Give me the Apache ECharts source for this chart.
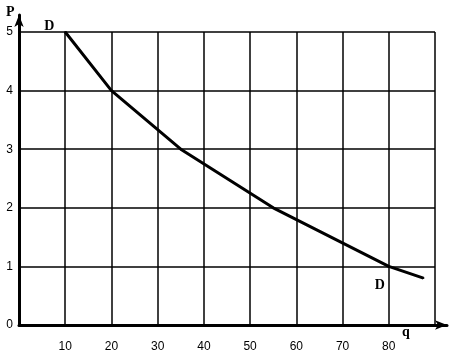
<!DOCTYPE html>
<html><head><meta charset="utf-8">
<script src="https://cdn.jsdelivr.net/npm/echarts@6/dist/echarts.min.js"></script>
<style>html,body{margin:0;padding:0;background:#fff}#c{width:456px;height:361px}</style>
</head><body><div id="c"></div>
<script>
const qValues = [10, 20, 35, 55, 80, 87.5];
const pValues = [5, 4, 3, 2, 1, 0.8];
const xTickLabels = [10, 20, 30, 40, 50, 60, 70, 80];
const yTickLabels = [0, 1, 2, 3, 4, 5];
const curveName = 'D';

const chart = echarts.init(document.getElementById('c'));
const tickFont = {fontFamily: 'Liberation Sans Narrow, Liberation Sans, Arial', fontSize: 12, color: '#000'};
const data = qValues.map((q, i) => {
  const item = {value: [q, pValues[i]]};
  if (i === 0) item.label = {show: true, formatter: curveName, position: 'inside', offset: [-16, -6]};
  if (i === 4) item.label = {show: true, formatter: curveName, position: 'inside', offset: [-9, 19]};
  return item;
});
chart.setOption({
  animation: false,
  backgroundColor: '#fff',
  grid: [
    {left: 19, right: 21, top: 32, bottom: 36},
    {left: 19, right: 9, top: 15, bottom: 36}
  ],
  xAxis: [
    {type: 'value', gridIndex: 0, min: 0, max: 90, interval: 10,
      axisLine: {show: false}, axisTick: {show: false},
      splitLine: {show: true, lineStyle: {color: '#000', width: 1.5}},
      axisLabel: Object.assign({margin: 16,
        formatter: v => xTickLabels.indexOf(v) >= 0 ? String(v) : ''}, tickFont)},
    {type: 'value', gridIndex: 1, min: 0, max: 1,
      axisLine: {show: true, symbol: ['none', 'arrow'], symbolSize: [7, 12], lineStyle: {color: '#000', width: 3}},
      axisTick: {show: false}, axisLabel: {show: false}, splitLine: {show: false}}
  ],
  yAxis: [
    {type: 'value', gridIndex: 0, min: 0, max: 5, interval: 1,
      axisLine: {show: false}, axisTick: {show: false},
      splitLine: {show: true, lineStyle: {color: '#000', width: 1.5}},
      axisLabel: Object.assign({margin: 6, padding: [6, 0, 0, 0],
        formatter: v => yTickLabels.indexOf(v) >= 0 ? String(v) : ''}, tickFont)},
    {type: 'value', gridIndex: 1, min: 0, max: 1,
      axisLine: {show: true, symbol: ['none', 'arrow'], symbolSize: [7, 12], lineStyle: {color: '#000', width: 3}},
      axisTick: {show: false}, axisLabel: {show: false}, splitLine: {show: false}}
  ],
  graphic: [
    {type: 'text', left: 6, top: 5, style: {text: 'P', font: 'bold 14px Liberation Serif', fill: '#000'}},
    {type: 'text', left: 402, top: 325, style: {text: 'q', font: 'bold 14px Liberation Serif', fill: '#000'}}
  ],
  series: [{
    type: 'line', xAxisIndex: 0, yAxisIndex: 0,
    data: data,
    symbol: 'circle', symbolSize: 2,
    itemStyle: {color: '#000'},
    lineStyle: {color: '#000', width: 3},
    label: {color: '#000', fontFamily: 'Liberation Serif', fontWeight: 'bold', fontSize: 14}
  }]
});
</script></body></html>
